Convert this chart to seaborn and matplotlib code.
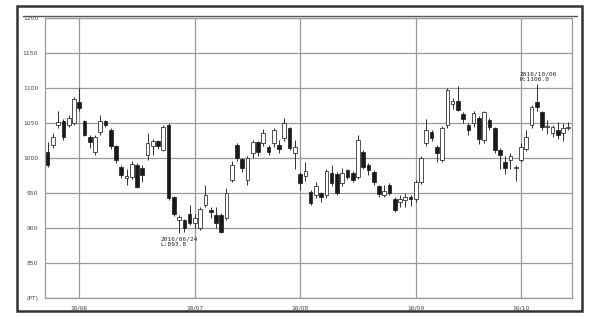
import matplotlib
matplotlib.use("Agg")
import matplotlib.pyplot as plt
import seaborn as sns
import numpy as np
import pandas as pd
from matplotlib.patches import Rectangle
from matplotlib.lines import Line2D

# ---- data (trading-day index 0 = 2016/05/24) ----
opens = [1009, 1019, 1048, 1053, 1048, 1050, 1080, 1053, 1030, 1009,
         1037, 1053, 1041, 1017, 988, 972, 973, 991, 986, 1005,
         1017, 1024, 1012, 1048, 944, 912, 912, 920, 907, 900,
         933, 926, 919, 919, 915, 969, 1019, 999, 969, 1008,
         1023, 1022, 1016, 1022, 1019, 1029, 1043, 1008, 977, 975,
         952, 947, 950, 947, 979, 977, 965, 983, 979, 973,
         1009, 990, 980, 960, 948, 962, 942, 938, 940, 945,
         942, 966, 1022, 1037, 1016, 998, 1048, 1078, 1082, 1064,
         1048, 1050, 1057, 1026, 1055, 1043, 1012, 995, 998, 986,
         998, 1014, 1048, 1080, 1066, 1045, 1036, 1040, 1036, 1044]
highs = [1023, 1036, 1068, 1056, 1062, 1088, 1100, 1055, 1033, 1033,
         1062, 1055, 1043, 1019, 990, 985, 996, 993, 990, 1036,
         1027, 1026, 1048, 1050, 946, 919, 914, 933, 920, 930,
         962, 930, 930, 922, 958, 996, 1022, 1001, 1003, 1026,
         1025, 1042, 1019, 1043, 1026, 1058, 1045, 1026, 980, 995,
         955, 966, 952, 985, 990, 980, 986, 985, 982, 1033,
         1012, 993, 983, 962, 962, 965, 945, 948, 950, 948,
         969, 1003, 1056, 1040, 1019, 1046, 1100, 1086, 1103, 1066,
         1050, 1068, 1060, 1068, 1058, 1045, 1015, 1003, 1008, 990,
         1022, 1040, 1076, 1106, 1068, 1055, 1048, 1052, 1050, 1052]
lows = [988, 1015, 1044, 1026, 1045, 1048, 1068, 1032, 1015, 1005,
        1033, 1045, 1014, 993, 972, 962, 970, 957, 966, 998,
        1005, 1014, 1010, 941, 917, 893.8, 895, 905, 900, 897,
        930, 915, 900, 894, 912, 966, 996, 980, 962, 1000,
        1003, 1018, 1005, 1016, 1008, 1025, 1012, 985, 955, 968,
        933, 944, 938, 944, 960, 948, 960, 970, 966, 970,
        985, 976, 962, 945, 945, 947, 923, 930, 930, 932,
        938, 963, 1018, 1025, 995, 995, 1043, 1070, 1067, 1050,
        1033, 1045, 1020, 1022, 1040, 1008, 985, 978, 985, 968,
        995, 1010, 1043, 1068, 1040, 1035, 1030, 1028, 1025, 1040]
closes = [990, 1030, 1052, 1031, 1058, 1084, 1072, 1034, 1024, 1030,
          1053, 1048, 1017, 997, 976, 975, 992, 959, 976, 1022,
          1025, 1017, 1045, 943, 920, 916, 900, 908, 915, 928,
          948, 923, 908, 895, 951, 990, 1000, 986, 1000, 1023,
          1009, 1036, 1009, 1040, 1014, 1050, 1015, 1016, 965, 982,
          936, 961, 945, 982, 965, 950, 979, 973, 969, 1026,
          988, 983, 966, 949, 953, 950, 926, 942, 945, 942,
          966, 1000, 1040, 1029, 1007, 1043, 1098, 1082, 1069, 1056,
          1040, 1065, 1027, 1066, 1045, 1012, 1005, 986, 1004, 988,
          1016, 1030, 1073, 1073, 1045, 1046, 1045, 1033, 1043, 1045]

month_pos = [6, 28, 48, 70, 90]
month_labels = ["16/06", "16/07", "16/08", "16/09", "16/10"]
y_ticks = [800, 850, 900, 950, 1000, 1050, 1100, 1150, 1200]
y_labels = ["(PT)", "850", "900", "950", "1000", "1050", "1100", "1150", "1200"]

low_note = "2016/06/24\nL:893.8"
high_note = "2016/10/06\nH:1106.0"

df = pd.DataFrame({"o": opens, "h": highs, "l": lows, "c": closes})
df["i"] = np.arange(len(df))
df["up"] = df["c"] >= df["o"]

sns.set_theme(style="white")
plt.rcParams['font.family'] = ['DejaVu Sans']

fig = plt.figure(figsize=(6.0, 3.22), dpi=100)
ax = fig.add_axes([45/600, 1-298.3/322, (572-45)/600, (298.3-18.3)/322])

# wicks
ax.vlines(df["i"], df["l"], df["h"], color="#222222", lw=0.65, zorder=3)
# bodies
body_bottom = np.minimum(df["o"], df["c"])
body_h = np.maximum(np.abs(df["c"] - df["o"]), 0.8)
face = np.where(df["up"], "white", "#1a1a1a")
ax.bar(df["i"], body_h, bottom=body_bottom, width=0.7, color=face,
       edgecolor="#222222", linewidth=0.55, zorder=4)

ax.set_xlim(-0.5, len(df) - 0.3)
ax.set_ylim(800, 1200)
ax.set_yticks(y_ticks)
ax.set_yticklabels(y_labels, fontsize=4.3, color="#444444")
ax.set_xticks(month_pos)
ax.set_xticklabels(month_labels, fontsize=4.3, color="#444444")
ax.tick_params(axis="both", length=2, width=0.6, color="#888888", pad=3)
ax.grid(True, color="#9a9a9a", lw=0.9)
ax.set_axisbelow(True)
for s in ["left", "bottom", "top", "right"]:
    ax.spines[s].set_color("#999999")
    ax.spines[s].set_linewidth(0.9)

# annotations
li = int(np.argmin(df["l"]))
ax.text(li - 3.5, df["l"][li] - 6, low_note, fontsize=4.4, family="DejaVu Sans Mono",
        va="top", ha="left", color="#222222", linespacing=1.1)
hi = int(np.argmax(df["h"]))
ax.text(hi - 3.3, df["h"][hi] + 3, high_note, fontsize=4.4, family="DejaVu Sans Mono",
        va="bottom", ha="left", color="#222222", linespacing=1.1)

# outer frame and top rule
fig.patches.append(Rectangle((17/600, 1-311/322), (582-17)/600, (311-6)/322,
                             transform=fig.transFigure, fill=False,
                             edgecolor="#333333", lw=1.8))
fig.lines.append(Line2D([23/600, 577/600], [1-15.5/322, 1-15.5/322],
                        transform=fig.transFigure, color="#555555", lw=1.0))

fig.savefig("out.png", dpi=100)
